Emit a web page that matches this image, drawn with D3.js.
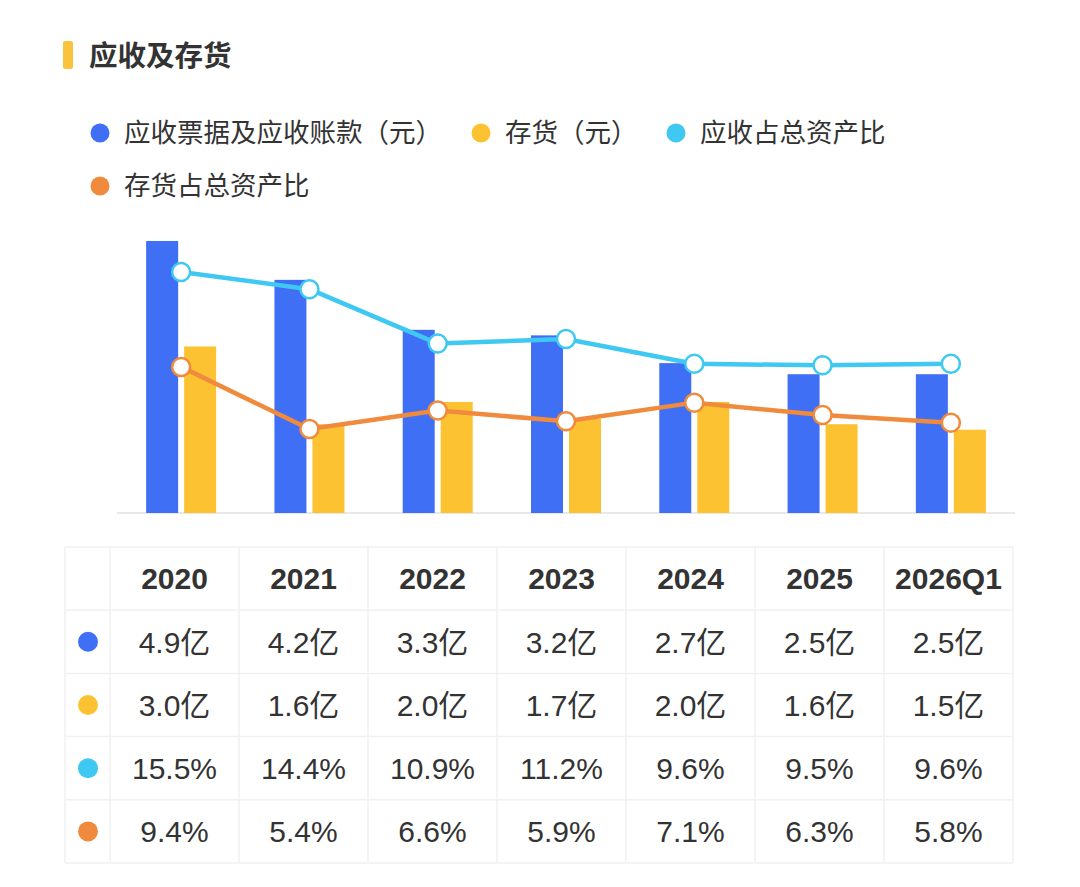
<!DOCTYPE html>
<html>
<head>
<meta charset="utf-8">
<script src="https://cdn.jsdelivr.net/npm/d3@7"></script>
<style>
  html, body { margin: 0; padding: 0; background: #fff; }
  svg { display: block; }
</style>
</head>
<body>
<svg id="chart"></svg>
<script>
const title = '应收及存货';
const categories = ['2020', '2021', '2022', '2023', '2024', '2025', '2026Q1'];
const receivables = [4.9, 4.2, 3.3, 3.2, 2.7, 2.5, 2.5];   // 亿
const inventory = [3.0, 1.6, 2.0, 1.7, 2.0, 1.6, 1.5];     // 亿
const receivablePct = [15.5, 14.4, 10.9, 11.2, 9.6, 9.5, 9.6];
const inventoryPct = [9.4, 5.4, 6.6, 5.9, 7.1, 6.3, 5.8];
const seriesNames = ['应收票据及应收账款（元）', '存货（元）', '应收占总资产比', '存货占总资产比'];
const seriesColors = ['#3f6ff4', '#fcc232', '#3fc8f2', '#f08b3d'];

const width = 1080, height = 887;
const cjk = '"Liberation Sans", "Noto Sans CJK SC", sans-serif';

const svg = d3.select('#chart')
    .attr('width', width)
    .attr('height', height);

// title with the small yellow mark
svg.append('rect')
    .attr('x', 63).attr('y', 41)
    .attr('width', 10).attr('height', 28)
    .attr('rx', 2)
    .attr('fill', '#f9c33d');
svg.append('text')
    .attr('x', 89).attr('y', 66)
    .attr('font-family', cjk)
    .attr('font-size', 28.5)
    .attr('font-weight', 'bold')
    .attr('fill', '#333')
    .text(title);

// legend, two rows
const legendPos = [[100, 133], [481, 133], [676, 133], [100, 186]];
const legend = svg.append('g').selectAll('g')
    .data(seriesNames)
    .join('g')
    .attr('transform', (d, i) => `translate(${legendPos[i][0]}, ${legendPos[i][1]})`);
legend.append('circle')
    .attr('r', 9.5)
    .attr('fill', (d, i) => seriesColors[i]);
legend.append('text')
    .attr('x', 24)
    .attr('dy', '0.35em')
    .attr('font-family', cjk)
    .attr('font-size', 26.5)
    .attr('fill', '#333')
    .text(d => d);

// chart scales
const x = d3.scaleBand()
    .domain(categories)
    .range([117, 1015]);
const yAmount = d3.scaleLinear()
    .domain([0, 4.9])
    .range([513, 241]);
const yPct = d3.scaleLinear()
    .domain([0, 17.5])
    .range([513, 241]);

const barW = 32, barGap = 6;

// baseline
svg.append('line')
    .attr('x1', x.range()[0]).attr('x2', x.range()[1])
    .attr('y1', yAmount(0)).attr('y2', yAmount(0))
    .attr('stroke', '#e8e8e8')
    .attr('stroke-width', 2);

// bars
svg.append('g').selectAll('rect')
    .data(receivables)
    .join('rect')
    .attr('x', (d, i) => x(categories[i]) + x.bandwidth() / 2 - barW - barGap / 2)
    .attr('y', d => yAmount(d))
    .attr('width', barW)
    .attr('height', d => yAmount(0) - yAmount(d))
    .attr('fill', seriesColors[0]);

svg.append('g').selectAll('rect')
    .data(inventory)
    .join('rect')
    .attr('x', (d, i) => x(categories[i]) + x.bandwidth() / 2 + barGap / 2)
    .attr('y', d => yAmount(d))
    .attr('width', barW)
    .attr('height', d => yAmount(0) - yAmount(d))
    .attr('fill', seriesColors[1]);

// lines with hollow markers
const line = d3.line()
    .x((d, i) => x(categories[i]) + x.bandwidth() / 2)
    .y(d => yPct(d));

[[inventoryPct, seriesColors[3]], [receivablePct, seriesColors[2]]].forEach(([data, color]) => {
    svg.append('path')
        .datum(data)
        .attr('fill', 'none')
        .attr('stroke', color)
        .attr('stroke-width', 4.5)
        .attr('stroke-linejoin', 'round')
        .attr('d', line);
    svg.append('g').selectAll('circle')
        .data(data)
        .join('circle')
        .attr('cx', (d, i) => x(categories[i]) + x.bandwidth() / 2)
        .attr('cy', d => yPct(d))
        .attr('r', 9)
        .attr('fill', '#fff')
        .attr('stroke', color)
        .attr('stroke-width', 2.5);
});

// data table under the chart
const tableRows = [
    receivables.map(d => d.toFixed(1) + '亿'),
    inventory.map(d => d.toFixed(1) + '亿'),
    receivablePct.map(d => d.toFixed(1) + '%'),
    inventoryPct.map(d => d.toFixed(1) + '%')
];
const col = d3.scaleBand()
    .domain(categories)
    .range([110, 1013]);
const row = d3.scaleBand()
    .domain(d3.range(5))
    .range([547, 863]);
const tableLeft = 65;

const table = svg.append('g');
const gridColor = '#f1f1f1';

// horizontal grid lines
table.selectAll('line.h')
    .data(d3.range(6))
    .join('line')
    .attr('class', 'h')
    .attr('x1', tableLeft).attr('x2', col.range()[1])
    .attr('y1', d => d < 5 ? row(d) : row.range()[1])
    .attr('y2', d => d < 5 ? row(d) : row.range()[1])
    .attr('stroke', gridColor)
    .attr('stroke-width', 1.5);

// vertical grid lines
const vx = [tableLeft].concat(categories.map(c => col(c)), [col.range()[1]]);
table.selectAll('line.v')
    .data(vx)
    .join('line')
    .attr('class', 'v')
    .attr('x1', d => d).attr('x2', d => d)
    .attr('y1', row.range()[0]).attr('y2', row.range()[1])
    .attr('stroke', gridColor)
    .attr('stroke-width', 1.5);

// header
table.selectAll('text.head')
    .data(categories)
    .join('text')
    .attr('class', 'head')
    .attr('x', d => col(d) + col.bandwidth() / 2)
    .attr('y', row(0) + row.bandwidth() / 2)
    .attr('dy', '0.36em')
    .attr('text-anchor', 'middle')
    .attr('font-family', cjk)
    .attr('font-size', 30)
    .attr('font-weight', 'bold')
    .attr('fill', '#333')
    .text(d => d);

// row markers
table.selectAll('circle')
    .data(tableRows)
    .join('circle')
    .attr('cx', 88)
    .attr('cy', (d, i) => row(i + 1) + row.bandwidth() / 2)
    .attr('r', 10)
    .attr('fill', (d, i) => seriesColors[i]);

// cells
tableRows.forEach((vals, r) => {
    table.append('g').selectAll('text')
        .data(vals)
        .join('text')
        .attr('x', (d, i) => col(categories[i]) + col.bandwidth() / 2)
        .attr('y', row(r + 1) + row.bandwidth() / 2)
        .attr('dy', '0.36em')
        .attr('text-anchor', 'middle')
        .attr('font-family', cjk)
        .attr('font-size', 30)
        .attr('fill', '#333')
        .text(d => d);
});
</script>
</body>
</html>
